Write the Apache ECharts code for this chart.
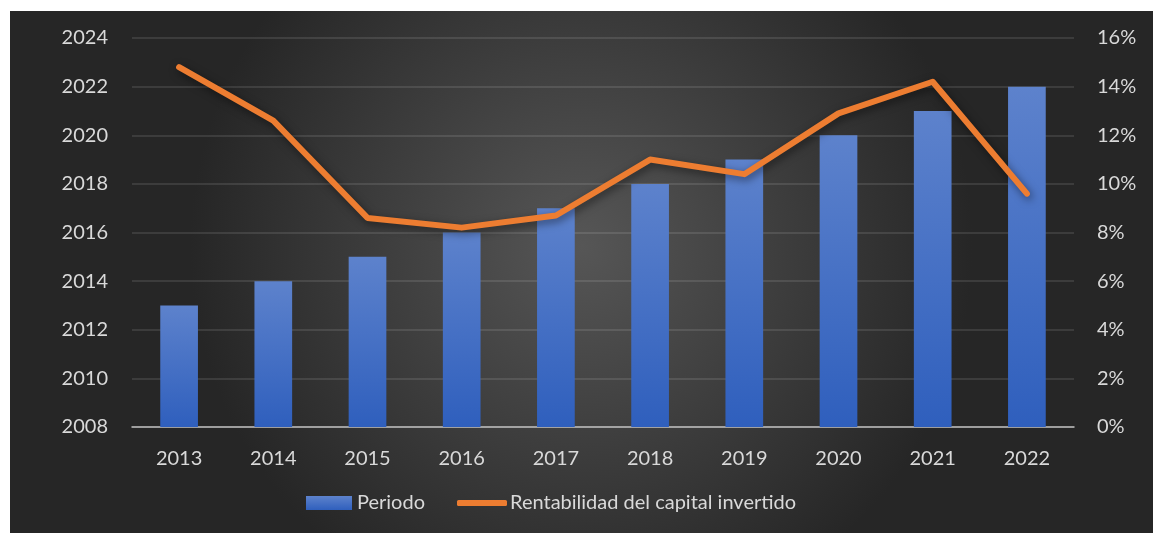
<!DOCTYPE html>
<html>
<head>
<meta charset="utf-8">
<script src="https://cdn.jsdelivr.net/npm/echarts@6/dist/echarts.min.js"></script>
<style>
  html, body { margin: 0; padding: 0; background: #ffffff; }
  #chart { position: absolute; left: 10px; top: 11px; width: 1143px; height: 522px; }
</style>
</head>
<body>
<div id="chart"></div>
<script>
// datos del gráfico
const years = ["2013", "2014", "2015", "2016", "2017", "2018", "2019", "2020", "2021", "2022"];
const periodo = [2013, 2014, 2015, 2016, 2017, 2018, 2019, 2020, 2021, 2022];
const rentabilidad = [14.8, 12.6, 8.6, 8.2, 8.7, 11.0, 10.4, 12.9, 14.2, 9.6];

const labelColor = "#d9d9d9";
const font = "Lato";
const fs = 20;

const chart = echarts.init(document.getElementById("chart"));

chart.setOption({
  backgroundColor: {
    type: "radial", x: 0.5, y: 0.45, r: 0.75,
    colorStops: [
      { offset: 0, color: "#565656" },
      { offset: 1, color: "#262626" }
    ]
  },
  textStyle: { fontFamily: font },
  grid: { left: 122, right: 79, top: 27, bottom: 106 },
  // dos leyendas para que cada icono tenga su propio tamaño
  legend: [
    {
      left: 291,
      top: 477,
      itemWidth: 46,
      itemHeight: 14,
      icon: "rect",
      textStyle: { color: labelColor, fontSize: fs, fontFamily: font },
      data: ["Periodo"]
    },
    {
      left: 442,
      top: 477,
      itemWidth: 50,
      itemHeight: 6,
      icon: "roundRect",
      textStyle: { color: labelColor, fontSize: fs, fontFamily: font, padding: [0, 0, 0, -2] },
      data: ["Rentabilidad del capital invertido"]
    }
  ],
  xAxis: {
    type: "category",
    data: years,
    axisLine: { lineStyle: { color: "#bfbfbf", width: 1.5 } },
    axisTick: { show: false },
    axisLabel: { color: labelColor, fontSize: fs, margin: 22 }
  },
  yAxis: [
    {
      type: "value",
      min: 2008, max: 2024, interval: 2,
      axisLine: { show: false },
      axisTick: { show: false },
      axisLabel: { color: labelColor, fontSize: fs, margin: 24, formatter: function (v) { return String(v); } },
      splitLine: { lineStyle: { color: "rgba(255,255,255,0.14)", width: 1.5 } }
    },
    {
      type: "value",
      min: 0, max: 16, interval: 2,
      axisLine: { show: false },
      axisTick: { show: false },
      axisLabel: { color: labelColor, fontSize: fs, margin: 23, formatter: "{value}%" },
      splitLine: { show: false }
    }
  ],
  series: [
    {
      name: "Periodo",
      type: "bar",
      data: periodo,
      barWidth: "40%",
      itemStyle: {
        color: {
          type: "linear", x: 0, y: 0, x2: 0, y2: 1,
          colorStops: [
            { offset: 0, color: "#5d82cc" },
            { offset: 1, color: "#2f5fbd" }
          ]
        },
        shadowBlur: 8,
        shadowColor: "rgba(0,0,0,0.45)",
        shadowOffsetX: 2,
        shadowOffsetY: 3
      }
    },
    {
      name: "Rentabilidad del capital invertido",
      type: "line",
      yAxisIndex: 1,
      data: rentabilidad,
      symbol: "none",
      itemStyle: { color: "#ed7d31" },
      lineStyle: {
        color: "#ed7d31",
        width: 6,
        cap: "round",
        join: "round",
        shadowBlur: 8,
        shadowColor: "rgba(0,0,0,0.5)",
        shadowOffsetX: 2,
        shadowOffsetY: 3
      }
    }
  ]
});

window.addEventListener("resize", function () {
  chart.resize();
});
</script>
</body>
</html>
